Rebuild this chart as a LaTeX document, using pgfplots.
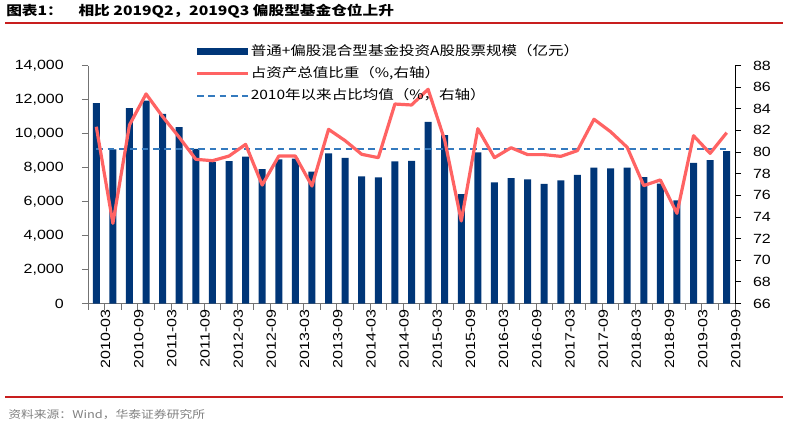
\documentclass[border=0pt]{standalone}
\usepackage{pgfplots}
\pgfplotsset{compat=1.18}
\usepackage{fontspec}
\setmainfont{Liberation Sans}[FakeStretch=1.2]
\newfontfamily\cjk{Noto Sans CJK SC}[FakeStretch=1.2]
\definecolor{barcol}{RGB}{0,54,120}
\definecolor{linecol}{RGB}{255,99,99}
\definecolor{meancol}{RGB}{52,122,190}
\definecolor{rulecol}{RGB}{200,30,30}
\begin{document}
\begin{tikzpicture}
\path[use as bounding box] (0pt,0pt) rectangle (591pt,321.75pt);
\node[anchor=west, inner sep=0pt, font=\cjk\bfseries\fontsize{9.8}{11}\selectfont] at (4.5pt,313.5pt) {图表1：\hspace{1.2em}相比 2019Q2，2019Q3 偏股型基金仓位上升};
\draw[rulecol, line width=0.9pt] (3.75pt,304.5pt) -- (587.25pt,304.5pt);
\draw[rulecol, line width=0.9pt] (3.75pt,24pt) -- (587.25pt,24pt);
\node[anchor=west, inner sep=0pt, text=black!50, font=\cjk\fontsize{8}{9}\selectfont] at (6pt,10.5pt) {资料来源：Wind，华泰证券研究所};
\begin{axis}[
  at={(66pt,94.125pt)}, anchor=south west, scale only axis,
  width=485.25pt, height=178.5pt,
  xmin=-0.5, xmax=38.5, ymin=0, ymax=14000,
  axis x line*=bottom, axis y line*=left,
  axis line style={black!55, line width=0.6pt},
  tick align=outside,
  major tick length=4.5pt, minor tick length=4.5pt,
  tick style={black!55, line width=0.6pt},
  xtick={0,2,...,38},
  xticklabels={2010-03,2010-09,2011-03,2011-09,2012-03,2012-09,2013-03,2013-09,2014-03,2014-09,2015-03,2015-09,2016-03,2016-09,2017-03,2017-09,2018-03,2018-09,2019-03,2019-09},
  major x tick style={draw=none},
  minor xtick={-0.5,0.5,...,38.5},
  xticklabel style={rotate=90, anchor=east, inner sep=0pt, yshift=-6.9pt},
  ytick={0,2000,...,14000},
  scaled y ticks=false,
  yticklabel={\pgfmathprintnumber[fixed,precision=0,1000 sep={,},assume math mode=true]{\tick}},
  yticklabel style={inner sep=0pt, xshift=-13.5pt},
  ticklabel style={font=\fontsize{10}{11}\selectfont},
  /pgf/number format/assume math mode=true,
  clip=false,
]
\addplot[ybar, bar width=5.25pt, fill=barcol, draw=none] coordinates {
(0,11780) (1,9070) (2,11500) (3,11930) (4,11150) (5,10380) (6,9090) (7,8320) (8,8380) (9,8640)
(10,7910) (11,8480) (12,8520) (13,7760) (14,8830) (15,8560) (16,7480) (17,7420) (18,8360) (19,8390)
(20,10680) (21,9910) (22,6440) (23,8890) (24,7130) (25,7380) (26,7300) (27,7030) (28,7250) (29,7560)
(30,7990) (31,7950) (32,7990) (33,7440) (34,7050) (35,6070) (36,8270) (37,8440) (38,8970)
};
\end{axis}
\begin{axis}[
  at={(66pt,94.125pt)}, anchor=south west, scale only axis,
  width=485.25pt, height=178.5pt,
  xmin=-0.5, xmax=38.5, ymin=66, ymax=88,
  axis x line=none, axis y line*=right,
  axis line style={black, line width=0.6pt},
  tick align=outside, major tick length=4.5pt,
  tick style={black, line width=0.6pt},
  ytick={66,68,...,88},
  yticklabel style={inner sep=0pt, xshift=8.8pt, anchor=west},
  ticklabel style={font=\fontsize{10}{11}\selectfont},
  /pgf/number format/assume math mode=true,
  legend style={at={(0.1654,1.0945)}, anchor=north west, draw=none, fill=none,
    inner sep=0pt, row sep=4.7pt,
    font=\cjk\fontsize{9.7}{11}\selectfont,
    nodes={inner sep=1pt, text height=8pt, text depth=2pt}},
  legend cell align=left,
  clip=false,
]
\addlegendimage{legend image code/.code={\fill[barcol] (0pt,-2.5pt) rectangle (38pt,2.5pt);}}
\addlegendentry{普通+偏股混合型基金投资A股股票规模（亿元）}
\addlegendimage{legend image code/.code={\draw[linecol, line width=2.6pt] (0pt,0pt) -- (38pt,0pt);}}
\addlegendentry{占资产总值比重（\%,右轴）}
\addlegendimage{legend image code/.code={\draw[meancol, line width=1.5pt, dash pattern=on 5pt off 3.5pt] (0pt,0pt) -- (38pt,0pt);}}
\addlegendentry{2010年以来占比均值（\%，右轴）}
\addplot[meancol, line width=1.5pt, dash pattern=on 5pt off 3.5pt, forget plot] coordinates {(0,80.25) (38,80.25)};
\addplot[linecol, line width=2.4pt, line join=round, forget plot] coordinates {
(0,82.34) (1,73.41) (2,82.5) (3,85.37) (4,83.27) (5,81.36) (6,79.33) (7,79.2) (8,79.63) (9,80.71)
(10,76.95) (11,79.63) (12,79.63) (13,76.86) (14,82.1) (15,81.05) (16,79.79) (17,79.48) (18,84.44) (19,84.35)
(20,85.8) (21,81.1) (22,73.63) (23,82.16) (24,79.48) (25,80.4) (26,79.76) (27,79.76) (28,79.6) (29,80.13)
(30,83.03) (31,81.88) (32,80.44) (33,76.9) (34,77.42) (35,74.34) (36,81.51) (37,79.88) (38,81.79)
};
\end{axis}
\end{tikzpicture}
\end{document}
